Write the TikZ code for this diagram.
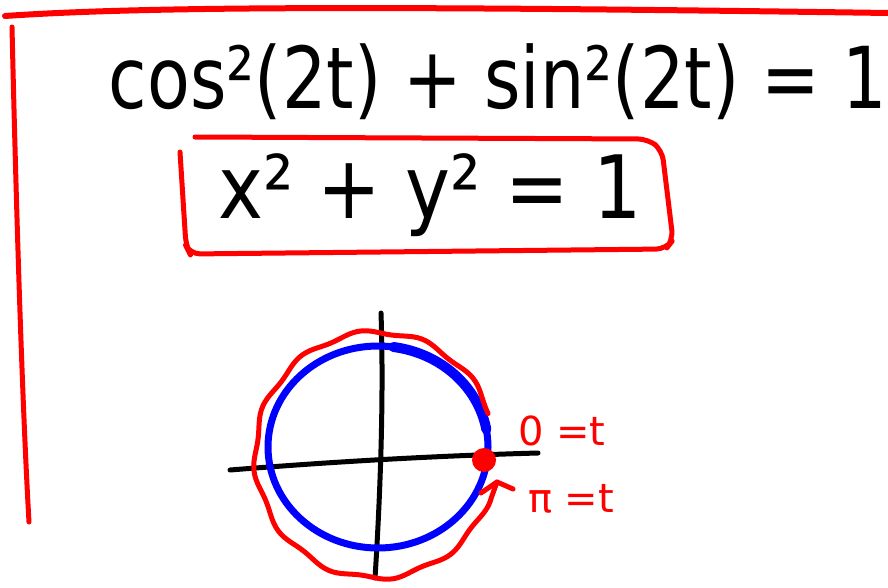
\documentclass[tikz,border=0pt]{standalone}
\usepackage{fontspec}
\setmainfont{DejaVu Sans}
\definecolor{pred}{RGB}{255,0,0}
\definecolor{pblue}{RGB}{0,0,255}
\begin{document}
\begin{tikzpicture}[x=1pt,y=-1pt,
  ink/.style={line cap=round,line join=round},
  redink/.style={ink,draw=pred,line width=5pt},
  blackink/.style={ink,draw=black,line width=5pt},
  blueink/.style={ink,draw=pblue,line width=7pt},
  bigtext/.style={inner sep=0pt,anchor=base,text=black},
  redlabel/.style={inner sep=0pt,anchor=base west,text=pred,font=\fontsize{40}{48}\selectfont}]
\useasboundingbox (0,0) rectangle (888,588);
\fill[white] (0,0) rectangle (888,588);
% frame lines
\draw[redink,line width=6pt] (5,16) .. controls (150,6) and (400,6) .. (888,13);
\draw[redink] (12,27) .. controls (16,200) and (22,400) .. (29,522);
% equation 1
\node[bigtext,font=\fontsize{70}{84}\selectfont] (eq1) at (498,109) {\scalebox{1}[1.22]{cos²(2t) + sin²(2t) = 1}};
% boxed equation 2
\node[bigtext,font=\fontsize{76}{90}\selectfont] (eq2) at (430,218) {\scalebox{1}[1.15]{x² + y² = 1}};
\draw[redink,rounded corners=10pt] (195,137) -- (648,139) -- (662,150) -- (673,240) -- (666,249) -- (190,254) -- (186,246) -- (180,152);
% axes
\coordinate (vtop) at (381,313);
\coordinate (vbot) at (375,578);
\coordinate (hl) at (230,470);
\coordinate (hr) at (538,453);
\draw[blackink] (vtop) .. controls (384,400) and (380,500) .. (vbot);
\draw[blackink] (hl) .. controls (330,462) and (430,456) .. (hr);
% blue circle
\draw[blueink] (378,447) ellipse [x radius=110, y radius=101];
\draw[blueink,line width=10pt] plot[domain=10:82,samples=40,smooth] ({378+110*cos(\x)},{447-101*sin(\x)});
% red wavy circle with arrow
\coordinate (tip) at (497,482);
\coordinate (armL) at (481,493);
\coordinate (armR) at (513,489);
\draw[redink] plot[domain=20:340,samples=160,smooth] ({376+(121+2*sin(12*\x))*cos(\x)},{455-(123+2*sin(12*\x))*sin(\x)}) -- (tip);
\draw[redink] (armL) -- (tip) -- (armR);
% red dot
\node[circle,fill=pred,minimum size=24pt,inner sep=0pt] (dot) at (484,460) {};
% labels
\node[redlabel] (t0) at (518,445) {0 =t};
\node[redlabel] (tpi) at (528,512) {π =t};
\end{tikzpicture}
\end{document}
